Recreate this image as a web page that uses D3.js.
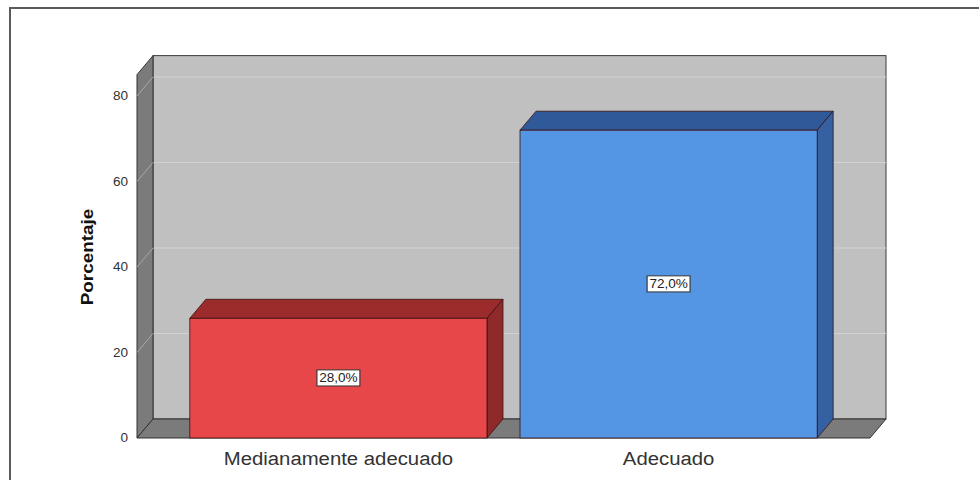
<!DOCTYPE html>
<html>
<head>
<meta charset="utf-8">
<script src="https://cdn.jsdelivr.net/npm/d3@7"></script>
<style>
  html, body { margin: 0; padding: 0; background: #ffffff; }
  svg { display: block; }
</style>
</head>
<body>
<svg id="chart" width="979" height="480"></svg>
<script>
// Data
const categories = ["Medianamente adecuado", "Adecuado"];
const percentages = [28.0, 72.0];
const valueLabels = ["28,0%", "72,0%"];
const yTicks = [0, 20, 40, 60, 80];
const yTitle = "Porcentaje";

// Bar face colours: front, top, side
const faceColors = [
  { front: "#e8474a", top: "#9c2b2c", side: "#8f2a2b" },
  { front: "#5596e4", top: "#2f5999", side: "#3561a3" }
];

const FONT = "Liberation Sans, Arial, sans-serif";
const stretch = 1.13; // horizontal widening of all text

const svg = d3.select("#chart");

// Chart frame
svg.append("rect")
  .attr("x", 10).attr("y", 8)
  .attr("width", 990).attr("height", 490)
  .attr("fill", "#ffffff")
  .attr("stroke", "#5a5a5a")
  .attr("stroke-width", 2);

// 3D depth offset
const dx = 16, dy = -19;
const wallTopValue = 85;

const x = d3.scaleBand()
  .domain(categories)
  .range([137, 870])
  .paddingInner(0.1)
  .paddingOuter(0.16);

const y = d3.scaleLinear()
  .domain([0, 80])
  .range([438, 96]);

const x0 = x.range()[0], x1 = x.range()[1];
const yb = y(0), yt = y(wallTopValue);

const poly = pts => pts.map(p => p.join(",")).join(" ");

// Places a text node at (px, py) widened horizontally by `stretch`
const place = (px, py) => `translate(${px},${py}) scale(${stretch},1)`;

// Back wall
svg.append("rect")
  .attr("x", x0 + dx).attr("y", yt + dy)
  .attr("width", x1 - x0).attr("height", yb - yt)
  .attr("fill", "#c0c0c0")
  .attr("stroke", "#3a3a3a").attr("stroke-width", 1);

// Back wall gridlines
svg.append("g").selectAll("line")
  .data(yTicks.filter(t => t > 0))
  .join("line")
  .attr("x1", x0 + dx).attr("x2", x1 + dx)
  .attr("y1", d => y(d) + dy).attr("y2", d => y(d) + dy)
  .attr("stroke", "#d2d2d2").attr("stroke-width", 1);

// Left side wall
svg.append("polygon")
  .attr("points", poly([[x0, yb], [x0, yt], [x0 + dx, yt + dy], [x0 + dx, yb + dy]]))
  .attr("fill", "#7b7b7b")
  .attr("stroke", "#333333").attr("stroke-width", 1);

// Side wall gridlines
svg.append("g").selectAll("line")
  .data(yTicks.filter(t => t > 0))
  .join("line")
  .attr("x1", x0).attr("x2", x0 + dx)
  .attr("y1", d => y(d)).attr("y2", d => y(d) + dy)
  .attr("stroke", "#a8a8a8").attr("stroke-width", 1);

// Floor
svg.append("polygon")
  .attr("points", poly([[x0, yb], [x1, yb], [x1 + dx, yb + dy], [x0 + dx, yb + dy]]))
  .attr("fill", "#7b7b7b")
  .attr("stroke", "#333333").attr("stroke-width", 1);

// Bars
const bars = svg.append("g").selectAll("g")
  .data(categories.map((c, i) => ({ c, v: percentages[i], label: valueLabels[i], col: faceColors[i] })))
  .join("g");

bars.append("polygon") // top face
  .attr("points", d => {
    const bx = x(d.c), bw = x.bandwidth(), by = y(d.v);
    return poly([[bx, by], [bx + bw, by], [bx + bw + dx, by + dy], [bx + dx, by + dy]]);
  })
  .attr("fill", d => d.col.top)
  .attr("stroke", "#3a1010").attr("stroke-width", 0.8);

bars.append("polygon") // side face
  .attr("points", d => {
    const bx = x(d.c) + x.bandwidth(), by = y(d.v);
    return poly([[bx, by], [bx + dx, by + dy], [bx + dx, yb + dy], [bx, yb]]);
  })
  .attr("fill", d => d.col.side)
  .attr("stroke", "#3a1010").attr("stroke-width", 0.8);

bars.append("rect") // front face
  .attr("x", d => x(d.c))
  .attr("y", d => y(d.v))
  .attr("width", x.bandwidth())
  .attr("height", d => yb - y(d.v))
  .attr("fill", d => d.col.front)
  .attr("stroke", "#3a1010").attr("stroke-width", 0.8);

// Value labels in white boxes, centred on each bar's front face
bars.each(function (d) {
  const g = d3.select(this)
    .append("g")
    .attr("transform", place(x(d.c) + x.bandwidth() / 2, (y(d.v) + yb) / 2));
  const t = g.append("text")
    .attr("x", 0).attr("y", 4)
    .attr("text-anchor", "middle")
    .attr("font-family", FONT)
    .attr("font-size", 12)
    .attr("fill", "#222")
    .text(d.label);
  const bb = t.node().getBBox();
  g.insert("rect", "text")
    .attr("x", bb.x - 2).attr("y", bb.y - 1)
    .attr("width", bb.width + 4).attr("height", bb.height + 2)
    .attr("fill", "#ffffff")
    .attr("stroke", "#333").attr("stroke-width", 1);
});

// Y tick labels
svg.append("g").selectAll("text")
  .data(yTicks)
  .join("text")
  .attr("transform", d => place(128, y(d) + 4))
  .attr("text-anchor", "end")
  .attr("font-family", FONT)
  .attr("font-size", 12)
  .attr("fill", "#333")
  .text(d => d);

// Category labels
svg.append("g").selectAll("text")
  .data(categories)
  .join("text")
  .attr("transform", d => place(x(d) + x.bandwidth() / 2, 465))
  .attr("text-anchor", "middle")
  .attr("font-family", FONT)
  .attr("font-size", 18)
  .attr("fill", "#333")
  .text(d => d);

// Y axis title
svg.append("text")
  .attr("transform", `translate(93, 257) rotate(-90) scale(${stretch + 0.05},1)`)
  .attr("text-anchor", "middle")
  .attr("font-family", FONT)
  .attr("font-size", 16)
  .attr("font-weight", "bold")
  .attr("fill", "#111")
  .text(yTitle);
</script>
</body>
</html>
